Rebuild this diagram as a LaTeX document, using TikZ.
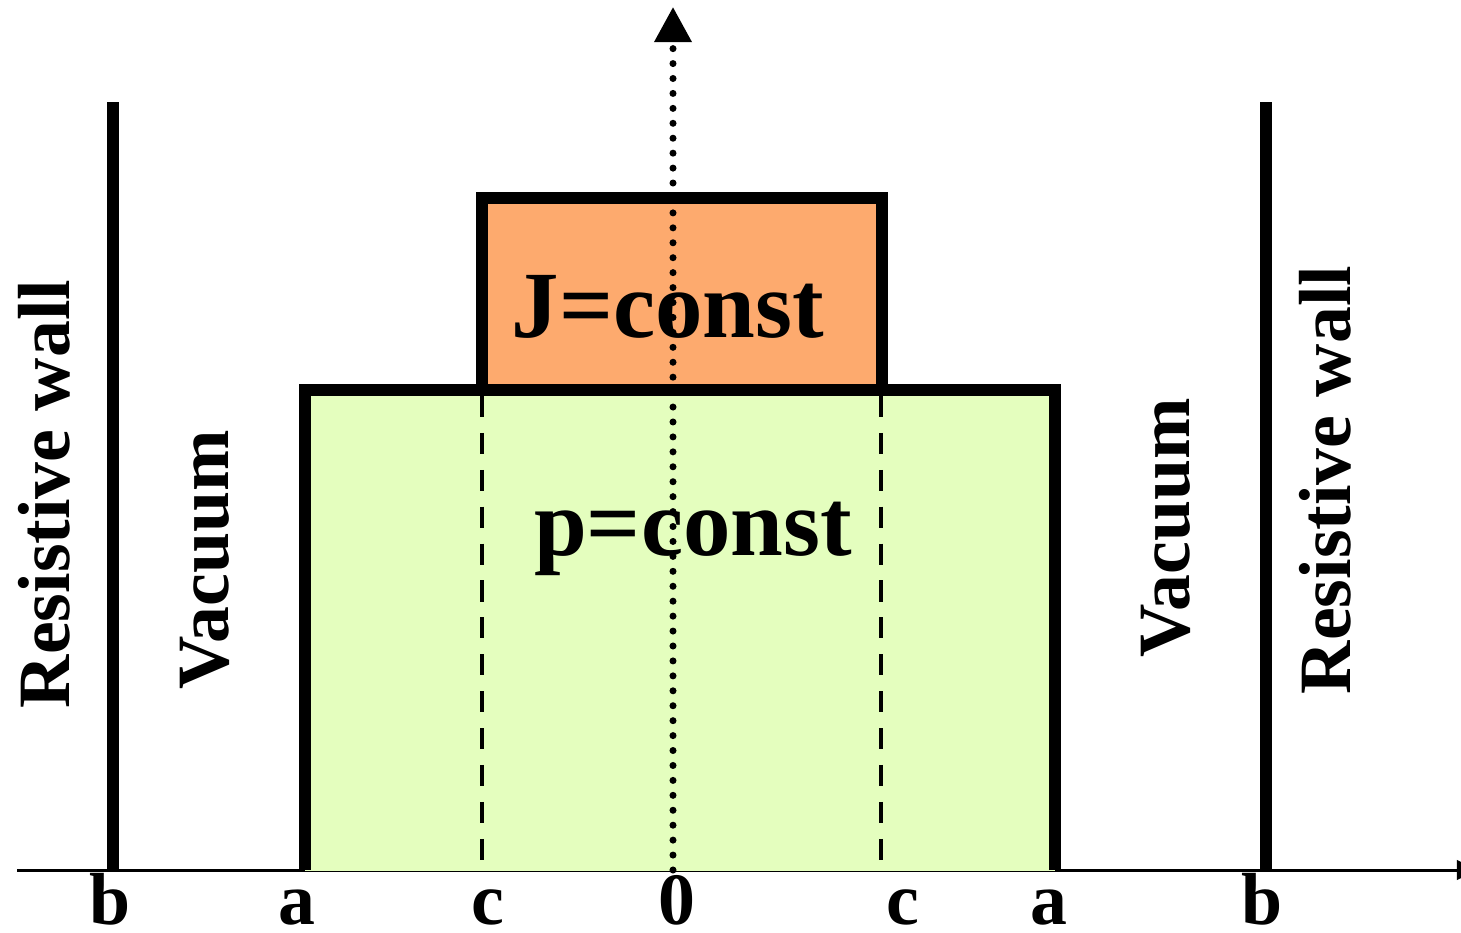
\documentclass[tikz,border=0pt]{standalone}
\usepackage{fontspec}
\setmainfont{Liberation Serif}
\usetikzlibrary{arrows.meta}
\definecolor{plasma}{HTML}{E4FEBE}
\definecolor{core}{HTML}{FDAA6E}
\newcommand{\sidefont}{\fontsize{42}{44}\selectfont\bfseries}
\newcommand{\regionfont}{\fontsize{54}{56}\selectfont\bfseries}

\begin{document}
\begin{tikzpicture}[x=0.02cm,y=-0.02cm,
  wall/.style={line width=6.8pt},
  rim/.style={line width=6.8pt,line join=miter},
  dashline/.style={line width=2.8pt,dash pattern=on 12pt off 9pt},
  lbl/.style={font=\sidefont,inner sep=0pt,anchor=base},
  sidelbl/.style={lbl,rotate=90}]
\useasboundingbox (0,0) rectangle (1461,933);
% radial axis
\coordinate (axL) at (17,870);
\coordinate (axR) at (1478,870);
\draw[line width=1.7pt,-{Triangle[width=11pt,length=12pt]}] (axL) -- (axR);
% plasma and current channel
\fill[plasma] (305,390) rectangle (1055,871);
\fill[core] (482,198) rectangle (882,390);
\draw[rim] (482,390) -- (482,198) -- (882,198) -- (882,390);
\draw[rim] (305,870) -- (305,390) -- (1055,390) -- (1055,870);
\draw[dashline] (482,396) -- (482,860);
\draw[dashline] (881,396) -- (881,860);
% resistive walls
\draw[wall] (113,102) -- (113,870);
\draw[wall] (1266,102) -- (1266,870);
% labels
\node[sidelbl] (rwL) at (69,494) {Resistive wall};
\node[sidelbl] (vacL) at (228,560) {Vacuum};
\node[sidelbl] (vacR) at (1189,528) {Vacuum};
\node[sidelbl] (rwR) at (1350,480) {Resistive wall};
\node[lbl,font=\regionfont] (jc) at (668,337) {J=const};
\node[lbl,font=\regionfont] (pc) at (693,555) {p=const};
\foreach \x/\t/\n in {110/b/bL,297/a/aL,488/c/cL,677/0/zero,903/c/cR,1049/a/aR,1262/b/bR}
  \node[lbl] (\n) at (\x,924) {\t};
% symmetry axis
\coordinate (ax0) at (673,870);
\coordinate (axtop) at (673,7);
\draw[line width=4pt,line cap=round,dash pattern=on 0pt off 8.5pt,
      -{Triangle[width=20.5pt,length=20pt]}] (ax0) -- (axtop);
\end{tikzpicture}
\end{document}
